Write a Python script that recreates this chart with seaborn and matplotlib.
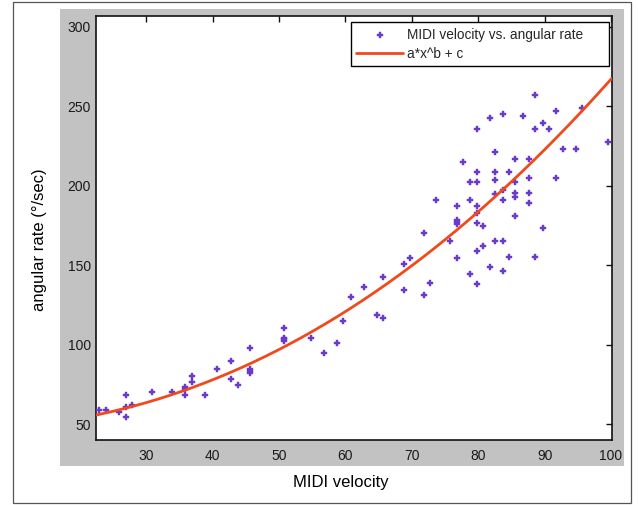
import numpy as np
import pandas as pd
import matplotlib
matplotlib.use("Agg")
import matplotlib.pyplot as plt
from matplotlib.patches import Rectangle
import seaborn as sns

# ---- data ----
velocity = [22.9, 24.0, 25.9, 27.0, 27.0, 27.0, 27.8, 30.8, 33.9, 35.8, 35.8, 35.8,
            36.9, 36.9, 38.8, 40.7, 42.7, 42.7, 43.8, 45.7, 45.7, 45.7, 45.7,
            50.7, 50.7, 50.7, 50.7, 54.8, 56.7, 58.7, 59.7, 60.8, 62.8, 64.7,
            65.7, 65.7, 68.8, 68.8, 69.7, 71.8, 71.8, 72.7, 73.7, 75.7,
            76.8, 76.8, 76.8, 76.8, 76.8, 77.7, 78.7, 78.7, 78.7,
            79.8, 79.8, 79.8, 79.8, 79.8, 79.8, 79.8, 79.8, 80.7, 80.7,
            81.8, 81.8, 82.6, 82.6, 82.6, 82.6, 82.6, 83.7, 83.7, 83.7, 83.7, 83.7,
            84.7, 84.7, 85.6, 85.6, 85.6, 85.6, 85.6, 86.7, 87.6, 87.6, 87.6, 87.6,
            88.6, 88.6, 88.6, 89.7, 89.7, 90.6, 91.7, 91.7, 92.7, 94.7, 95.6, 99.6]
angular_rate = [58.6, 58.6, 57.6, 68.5, 60.6, 54.2, 62.2, 70.2, 70.2, 73.6, 72.3, 68.5,
                80.2, 76.4, 68.5, 84.5, 89.9, 78.4, 74.8, 97.9, 84.5, 83.3, 82.0,
                110.6, 104.4, 103.4, 102.4, 104.2, 94.4, 100.7, 114.9, 130.0, 136.2, 118.5,
                116.8, 142.5, 150.7, 134.6, 154.3, 170.2, 131.0, 139.0, 190.9, 165.0,
                187.2, 178.6, 177.3, 176.1, 154.4, 215.0, 202.4, 190.9, 144.5,
                235.5, 208.7, 202.4, 187.2, 182.7, 176.4, 158.7, 138.3, 174.8, 162.2,
                242.6, 148.8, 221.2, 208.7, 203.3, 194.5, 165.0, 245.4, 197.1, 190.9, 165.0, 146.1,
                208.7, 155.1, 216.6, 202.4, 195.3, 192.8, 181.1, 243.7, 216.6, 205.1, 195.3, 189.0,
                257.1, 235.5, 155.1, 239.3, 173.1, 235.5, 247.2, 205.1, 222.9, 222.9, 248.9, 227.6]

# fitted model a*x^b + c (parameters estimated from the drawn curve)
fit_a, fit_b, fit_c = 0.01212, 2.13, 46.5

x_ticks = [30, 40, 50, 60, 70, 80, 90, 100]
y_ticks = [50, 100, 150, 200, 250, 300]
x_label = "MIDI velocity"
y_label = "angular rate (°/sec)"
series_labels = ["MIDI velocity vs. angular rate", "a*x^b + c"]

xlim = (22.5, 100.1)
ylim = (39.7, 307.0)

# ---- figure ----
sns.set_theme(style="white")
plt.rcParams['font.family'] = ['Liberation Sans', 'DejaVu Sans']

W, H = 638, 505
fig = plt.figure(figsize=(W / 100, H / 100), dpi=100, facecolor="white")

# background layer: outer thin frame and gray panel
bg = fig.add_axes([0, 0, 1, 1], zorder=-10)
bg.set_axis_off()
bg.set_xlim(0, W)
bg.set_ylim(H, 0)
bg.add_patch(Rectangle((13, 1.5), 631 - 13, 503 - 1.5, fill=False,
                       edgecolor="#555555", lw=0.9))
bg.add_patch(Rectangle((59.5, 8.5), 624 - 59.5, 466 - 8.5, facecolor="#c2c2c2",
                       edgecolor="none"))

ax_l, ax_r, ax_t, ax_b = 96.4, 611.7, 15.7, 440.4
ax = fig.add_axes([ax_l / W, (H - ax_b) / H, (ax_r - ax_l) / W, (ax_b - ax_t) / H], zorder=1)
ax.set_facecolor("white")

df = pd.DataFrame({"velocity": velocity, "rate": angular_rate})
sns.scatterplot(data=df, x="velocity", y="rate", ax=ax, marker="P", s=18,
                color="#6a3ac8", edgecolor="#6a3ac8", linewidth=0.3,
                label=series_labels[0], zorder=3)

xs = np.linspace(xlim[0], xlim[1], 300)
fit_df = pd.DataFrame({"velocity": xs, "rate": fit_a * xs ** fit_b + fit_c})
sns.lineplot(data=fit_df, x="velocity", y="rate", ax=ax, color="#f04a1c",
             lw=2.0, label=series_labels[1], zorder=4)

ax.set_xlim(*xlim)
ax.set_ylim(*ylim)
ax.set_xticks(x_ticks)
ax.set_yticks(y_ticks)
ax.tick_params(direction="in", length=4, width=1, top=True, right=True,
               labeltop=False, labelright=False, labelsize=10,
               labelcolor="#1a1a1a", color="#111111", pad=4)
ax.tick_params(axis="x", pad=6)
for s in ax.spines.values():
    s.set_color("#111111")
    s.set_linewidth(1.2)

ax.set_xlabel("")
ax.set_ylabel("")
fig.text(341 / W, 1 - 483 / H, x_label, ha="center", va="center", fontsize=12, color="black")
fig.text(40 / W, 1 - 240 / H, y_label, ha="center", va="center", rotation=90,
         fontsize=12, color="black")

leg_x0 = (351 - ax_l) / (ax_r - ax_l)
leg = ax.legend(loc="upper right", bbox_to_anchor=(leg_x0, 0.5, 0.995 - leg_x0, 0.485),
                mode="expand", borderaxespad=0,
                fontsize=9.8, frameon=True, fancybox=False, handlelength=3.4,
                handletextpad=0.3, borderpad=0.4, labelspacing=0.4)
leg.get_frame().set_edgecolor("black")
leg.get_frame().set_linewidth(1.0)
leg.get_frame().set_alpha(1)

fig.savefig("out.png", dpi=100, facecolor="white")
